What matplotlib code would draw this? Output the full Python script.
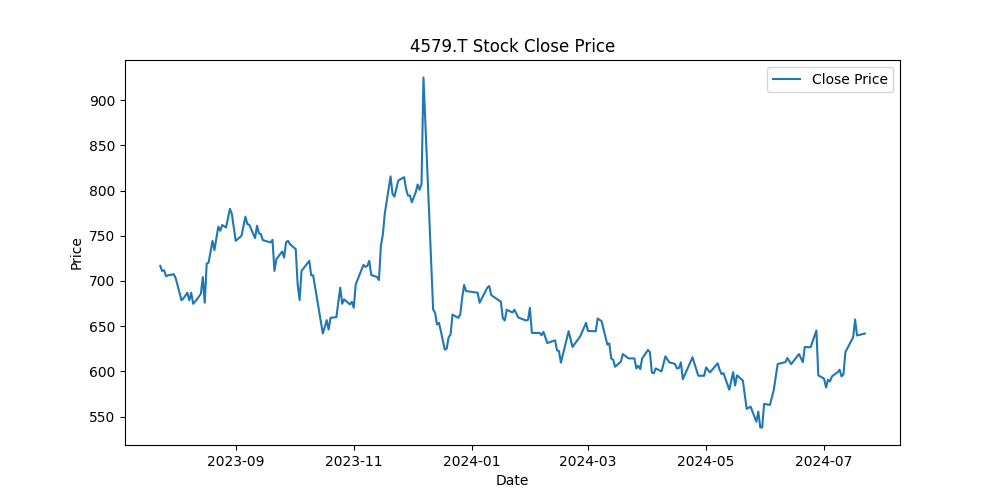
import matplotlib
matplotlib.use("Agg")
import matplotlib.pyplot as plt
import pandas as pd

dates = [
    "2023-07-24", "2023-07-25", "2023-07-26", "2023-07-27", "2023-07-28", "2023-07-31",
    "2023-08-01", "2023-08-04", "2023-08-05", "2023-08-07", "2023-08-08", "2023-08-09",
    "2023-08-10", "2023-08-12", "2023-08-14", "2023-08-15", "2023-08-16", "2023-08-17",
    "2023-08-18", "2023-08-20", "2023-08-21", "2023-08-23", "2023-08-24", "2023-08-25",
    "2023-08-27", "2023-08-29", "2023-08-30", "2023-09-01", "2023-09-04", "2023-09-06",
    "2023-09-07", "2023-09-08", "2023-09-11", "2023-09-12", "2023-09-13", "2023-09-14",
    "2023-09-15", "2023-09-19", "2023-09-20", "2023-09-21", "2023-09-22", "2023-09-25",
    "2023-09-26", "2023-09-27", "2023-09-28", "2023-09-29", "2023-10-02", "2023-10-03",
    "2023-10-04", "2023-10-05", "2023-10-09", "2023-10-10", "2023-10-11", "2023-10-16",
    "2023-10-17", "2023-10-18", "2023-10-19", "2023-10-20", "2023-10-23", "2023-10-25",
    "2023-10-26", "2023-10-27", "2023-10-30", "2023-10-31", "2023-11-01", "2023-11-02",
    "2023-11-06", "2023-11-07", "2023-11-08", "2023-11-09", "2023-11-10", "2023-11-13",
    "2023-11-14", "2023-11-15", "2023-11-16", "2023-11-17", "2023-11-20", "2023-11-21",
    "2023-11-22", "2023-11-24", "2023-11-27", "2023-11-28", "2023-11-29", "2023-11-30",
    "2023-12-01", "2023-12-03", "2023-12-04", "2023-12-05", "2023-12-06", "2023-12-07",
    "2023-12-12", "2023-12-13", "2023-12-14", "2023-12-15", "2023-12-16", "2023-12-18",
    "2023-12-19", "2023-12-20", "2023-12-21", "2023-12-22", "2023-12-25", "2023-12-26",
    "2023-12-27", "2023-12-28", "2023-12-29", "2024-01-04", "2024-01-05", "2024-01-09",
    "2024-01-10", "2024-01-11", "2024-01-13", "2024-01-16", "2024-01-17", "2024-01-18",
    "2024-01-19", "2024-01-22", "2024-01-23", "2024-01-25", "2024-01-29", "2024-01-30",
    "2024-01-31", "2024-02-01", "2024-02-05", "2024-02-06", "2024-02-07", "2024-02-09",
    "2024-02-13", "2024-02-14", "2024-02-15", "2024-02-16", "2024-02-18", "2024-02-20",
    "2024-02-22", "2024-02-26", "2024-02-29", "2024-03-01", "2024-03-05", "2024-03-06",
    "2024-03-08", "2024-03-11", "2024-03-12", "2024-03-13", "2024-03-14", "2024-03-15",
    "2024-03-18", "2024-03-19", "2024-03-22", "2024-03-25", "2024-03-26", "2024-03-27",
    "2024-03-28", "2024-03-29", "2024-04-01", "2024-04-02", "2024-04-03", "2024-04-04",
    "2024-04-05", "2024-04-08", "2024-04-10", "2024-04-12", "2024-04-14", "2024-04-15",
    "2024-04-16", "2024-04-17", "2024-04-18", "2024-04-19", "2024-04-24", "2024-04-27",
    "2024-04-30", "2024-05-01", "2024-05-03", "2024-05-07", "2024-05-08", "2024-05-09",
    "2024-05-10", "2024-05-13", "2024-05-15", "2024-05-16", "2024-05-17", "2024-05-20",
    "2024-05-22", "2024-05-24", "2024-05-27", "2024-05-28", "2024-05-29", "2024-05-30",
    "2024-05-31", "2024-06-03", "2024-06-05", "2024-06-07", "2024-06-11", "2024-06-12",
    "2024-06-14", "2024-06-18", "2024-06-20", "2024-06-21", "2024-06-24", "2024-06-27",
    "2024-06-28", "2024-07-01", "2024-07-02", "2024-07-03", "2024-07-04", "2024-07-05",
    "2024-07-08", "2024-07-09", "2024-07-10", "2024-07-11", "2024-07-12", "2024-07-16",
    "2024-07-17", "2024-07-18", "2024-07-22",
]

close_price = [
    716.7, 711.1, 711.9, 705.2, 706.3, 707.4,
    703.0, 678.6, 680.8, 687.0, 678.6, 687.0,
    674.8, 679.7, 685.9, 704.4, 675.9, 719.2,
    720.3, 744.4, 734.1, 760.0, 755.6, 761.9,
    759.2, 779.7, 774.1, 744.4, 750.0, 771.1,
    763.0, 762.2, 747.4, 761.1, 752.6, 751.9,
    745.2, 742.6, 745.6, 711.1, 724.1, 732.6,
    725.9, 742.6, 744.4, 740.8, 735.2, 696.3,
    678.9, 711.1, 722.2, 706.3, 706.3, 641.9,
    648.9, 656.7, 646.3, 659.3, 660.0, 692.6,
    674.8, 679.7, 674.1, 677.0, 670.4, 696.3,
    717.8, 715.6, 716.7, 722.2, 706.7, 704.4,
    701.1, 738.9, 751.1, 774.1, 815.6, 796.3,
    793.3, 811.1, 814.8, 801.9, 794.4, 794.4,
    787.0, 798.1, 806.7, 800.8, 807.4, 925.0,
    668.5, 664.8, 651.9, 653.7, 644.4, 624.1,
    625.2, 637.8, 640.7, 662.9, 659.2, 662.9,
    681.4, 695.6, 688.9, 687.0, 675.9, 692.6,
    694.4, 684.4, 681.4, 677.0, 658.9, 656.3,
    668.2, 665.2, 668.2, 659.6, 656.3, 657.0,
    670.3, 642.6, 642.6, 640.0, 643.7, 631.4,
    634.4, 623.3, 622.6, 609.7, 627.0, 644.4,
    627.0, 638.9, 653.7, 644.8, 644.4, 658.5,
    655.6, 629.7, 631.0, 614.4, 613.0, 605.2,
    610.8, 619.2, 614.4, 614.4, 603.3, 606.3,
    602.6, 614.4, 623.7, 621.1, 598.9, 597.8,
    603.3, 600.0, 616.7, 610.0, 608.9, 608.1,
    603.3, 603.7, 610.0, 591.4, 615.6, 595.2,
    595.2, 604.4, 598.9, 609.0, 601.9, 597.0,
    598.1, 579.7, 599.2, 584.4, 595.6, 590.0,
    558.6, 561.1, 544.4, 555.6, 538.0, 538.0,
    564.1, 563.0, 579.7, 608.1, 610.3, 614.8,
    608.1, 619.2, 610.3, 627.0, 626.7, 645.2,
    595.6, 591.9, 582.2, 590.8, 588.9, 594.4,
    599.2, 601.9, 594.4, 597.0, 621.4, 637.8,
    657.4, 639.7, 641.9,
]

x = pd.to_datetime(dates)

fig, ax = plt.subplots(figsize=(10, 5), dpi=100)
ax.plot(x, close_price, label="Close Price")
ax.set_title("4579.T Stock Close Price")
ax.set_xlabel("Date")
ax.set_ylabel("Price")
ax.legend()
fig.savefig("out.png", dpi=100)
